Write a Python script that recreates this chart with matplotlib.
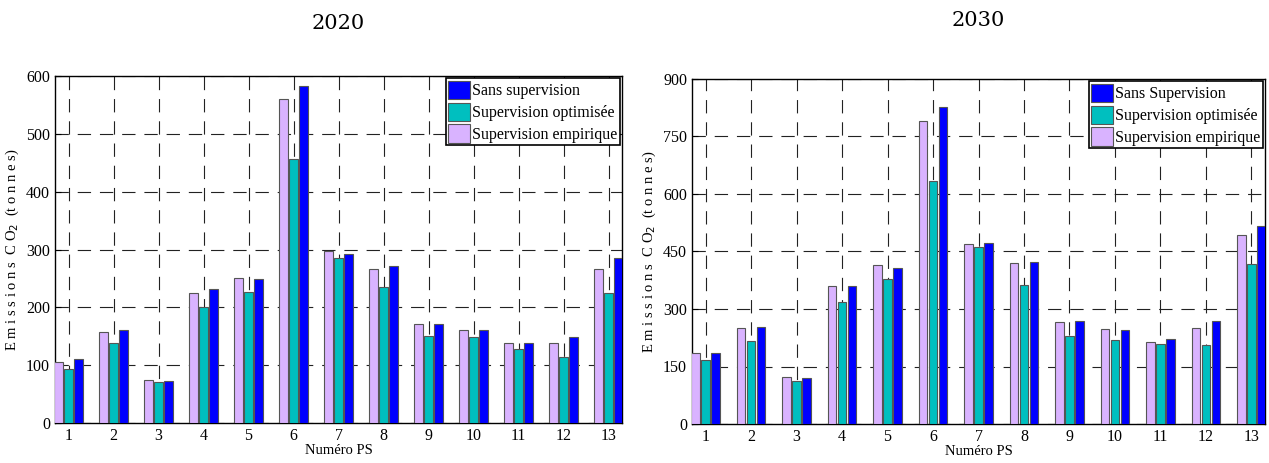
import numpy as np
import matplotlib
matplotlib.use('Agg')
import matplotlib.pyplot as plt

# ---- data ---------------------------------------------------------------
ps = np.arange(1, 14)

empirique_2020 = [106, 158, 75, 224, 250, 560, 298, 267, 172, 160, 138, 138, 266]
optimisee_2020 = [93, 139, 71, 200, 227, 457, 285, 236, 150, 148, 128, 114, 224]
sans_2020      = [110, 161, 72, 231, 249, 582, 292, 271, 172, 161, 139, 149, 286]

empirique_2030 = [186, 250, 122, 359, 414, 790, 469, 420, 267, 247, 215, 251, 492]
optimisee_2030 = [168, 217, 113, 319, 378, 633, 462, 362, 229, 219, 209, 205, 418]
sans_2030      = [186, 252, 119, 359, 408, 827, 471, 423, 270, 245, 221, 269, 517]

C_EMP = '#d9b3ff'
C_OPT = '#00bfbf'
C_SANS = '#0000ff'

plt.rcParams.update({
    "font.family": "Liberation Serif",
    "font.size": 11,
})

fig = plt.figure(figsize=(12.69, 4.63), dpi=100)
W, H = 1269, 463
ax1 = fig.add_axes([55/W, 1-423/H, (622-55)/W, (423-76)/H])
ax2 = fig.add_axes([692/W, 1-424/H, (1265-692)/W, (424-79)/H])


def draw(ax, emp, opt, sans, title, ymax, yticks, sans_label, title_pad):
    w = 0.19
    off = 0.22
    kw = dict(width=w, edgecolor='#555555', linewidth=0.8, zorder=3)
    b_emp = ax.bar(ps - off, emp, color=C_EMP, **kw)
    b_opt = ax.bar(ps, opt, color=C_OPT, **kw)
    b_sans = ax.bar(ps + off, sans, color=C_SANS, **kw)

    ax.set_xlim(0.7, 13.3)
    ax.set_ylim(0, ymax)
    ax.set_xticks(ps)
    ax.set_yticks(yticks)
    ax.tick_params(direction='in', length=4, labelsize=11.5, top=False, right=False)
    ax.grid(True, color='#222222', linestyle=(0, (12, 8)), linewidth=0.8, zorder=0)
    ax.set_axisbelow(True)
    for s in ax.spines.values():
        s.set_linewidth(1.0)
    ax.set_title(title, fontsize=15, pad=title_pad, family='DejaVu Serif')
    ax.set_xlabel("Numéro PS", fontsize=10.5, labelpad=0)
    ax.set_ylabel(r"E m i s s i o n s  C O$_2$  (t o n n e s)", fontsize=10.5)
    leg = ax.legend([b_sans, b_opt, b_emp],
                    [sans_label, "Supervision optimisée", "Supervision empirique"],
                    loc='upper right', fontsize=11.5, frameon=True, fancybox=False,
                    handlelength=1.4, handleheight=1.4, handletextpad=0.1,
                    borderpad=0.15, labelspacing=0.2, borderaxespad=0.15)
    leg.get_frame().set_edgecolor('black')
    leg.get_frame().set_linewidth(1.2)
    leg.get_frame().set_alpha(1)


draw(ax1, empirique_2020, optimisee_2020, sans_2020, "2020", 600,
     [0, 100, 200, 300, 400, 500, 600], "Sans supervision", 34)
draw(ax2, empirique_2030, optimisee_2030, sans_2030, "2030", 900,
     [0, 150, 300, 450, 600, 750, 900], "Sans Supervision", 38)

fig.savefig("out.png", dpi=100)
